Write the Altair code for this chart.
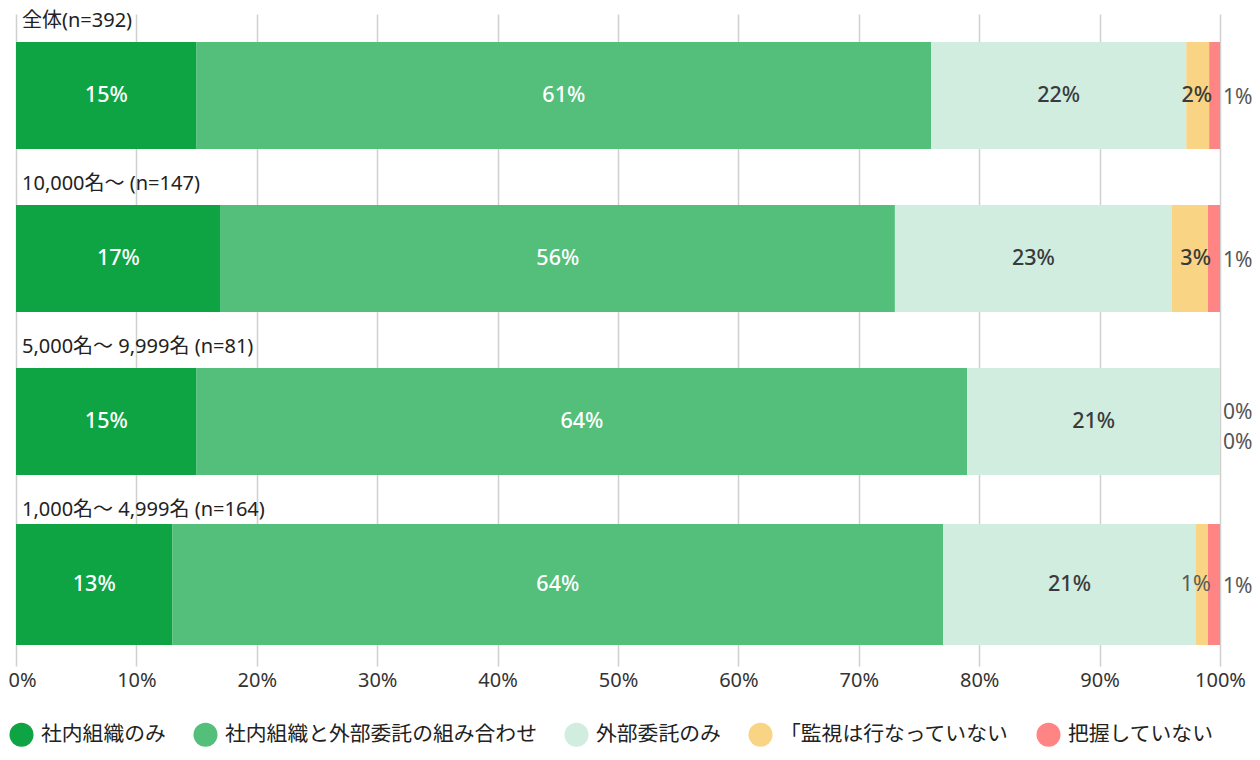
import altair as alt
import pandas as pd

rows = ["全体(n=392)", "10,000名～ (n=147)", "5,000名～ 9,999名 (n=81)", "1,000名～ 4,999名 (n=164)"]
series = ["社内組織のみ", "社内組織と外部委託の組み合わせ", "外部委託のみ", "「監視は行なっていない", "把握していない"]
colors = ["#0ea443", "#53bf7b", "#d0ede0", "#f9d484", "#ff8585"]

v_in = [15, 17, 15, 13]
v_mix = [61, 56, 64, 64]
v_out = [21.2, 23, 21, 21]
v_none = [1.9, 3, 0, 1]
v_unk = [0.9, 1, 0, 1]

l_in = ["15%", "17%", "15%", "13%"]
l_mix = ["61%", "56%", "64%", "64%"]
l_out = ["22%", "23%", "21%", "21%"]
l_none = ["2%", "3%", "0%", "1%"]
l_unk = ["1%", "1%", "0%", "1%"]

vals = [v_in, v_mix, v_out, v_none, v_unk]
labs = [l_in, l_mix, l_out, l_none, l_unk]

recs = []
for si, s in enumerate(series):
    for ri, r in enumerate(rows):
        recs.append({"row": r, "series": s, "order": si, "value": vals[si][ri], "label": labs[si][ri]})
df = pd.DataFrame(recs)

W = 1204
H = 652
FONT = "Noto Sans, Noto Sans CJK JP"

base = alt.Chart(df).transform_stack(
    stack="value", as_=["x0", "x1"], groupby=["row"], sort=[alt.SortField("order")]
).transform_calculate(mid="(datum.x0 + datum.x1) / 2")

yenc = alt.Y("row:N", sort=rows, axis=None,
             scale=alt.Scale(paddingInner=0, paddingOuter=0))
xscale = alt.Scale(domain=[0, 100], nice=False, zero=True)

bars = base.mark_bar().encode(
    x=alt.X("x0:Q", scale=xscale,
            axis=alt.Axis(values=list(range(0, 101, 10)), labelExpr="datum.value + '%'",
                          title=None, domain=False, ticks=False, grid=True,
                          gridColor="#d0d0d0", gridWidth=1.5, labelPadding=4,
                          labelFlush=False,
                          labelAlign=alt.condition("datum.value == 0", alt.value("left"), alt.value("center")),
                          labelOffset=alt.condition("datum.value == 0", alt.value(-8), alt.value(0)),
                          labelFontSize=20, labelColor="#333")),
    x2="x1:Q",
    y=yenc,
    color=alt.Color("series:N", sort=series,
                    scale=alt.Scale(domain=series, range=colors),
                    legend=alt.Legend(title=None, orient="none", legendX=-7, legendY=708,
                                      direction="horizontal", symbolType="circle",
                                      symbolSize=580, symbolStrokeWidth=0,
                                      labelFontSize=20.8, labelColor="#222",
                                      labelOffset=7, columnPadding=27, labelLimit=500)),
    size=alt.condition(alt.datum.row == rows[3], alt.value(121), alt.value(107)),
)

row_labels = alt.Chart(pd.DataFrame({"row": rows})).mark_text(
    align="left", baseline="middle", dy=-75, fontSize=20, color="#222"
).encode(x=alt.value(6), y=alt.Y("row:N", sort=rows, axis=None), text="row:N")

t_white = base.transform_filter(alt.datum.order <= 1).mark_text(
    fontSize=21.5, color="white", fontWeight=500, baseline="middle"
).encode(x=alt.X("mid:Q", scale=xscale), y=yenc, text="label:N")

t_dark = base.transform_filter(alt.datum.order == 2).mark_text(
    fontSize=21.5, color="#3a3a3a", fontWeight=500, baseline="middle"
).encode(x=alt.X("mid:Q", scale=xscale), y=yenc, text="label:N")

t_yel_in = base.transform_filter("datum.order == 3 && datum.value >= 1.5").mark_text(
    fontSize=21.5, color="#3a3a3a", fontWeight=500, align="right", dx=3, baseline="middle"
).encode(x=alt.X("x1:Q", scale=xscale), y=yenc, text="label:N")

t_yel_small = base.transform_filter("datum.order == 3 && datum.value > 0 && datum.value < 1.5").mark_text(
    fontSize=21.5, color="#5a5a5a", align="right", dx=3, baseline="middle"
).encode(x=alt.X("x1:Q", scale=xscale), y=yenc, text="label:N")

t_yel_zero = base.transform_filter("datum.order == 3 && datum.value == 0").mark_text(
    fontSize=21, color="#555", align="left", dx=3, dy=-9, baseline="middle"
).encode(x=alt.datum(100, scale=xscale), y=yenc, text="label:N")

t_red_zero = base.transform_filter("datum.order == 4 && datum.value == 0").mark_text(
    fontSize=21, color="#555", align="left", dx=3, dy=21, baseline="middle"
).encode(x=alt.datum(100, scale=xscale), y=yenc, text="label:N")

t_red = base.transform_filter("datum.order == 4 && datum.value > 0").mark_text(
    fontSize=21, color="#555", align="left", dx=3, dy=2, baseline="middle"
).encode(x=alt.datum(100, scale=xscale), y=yenc, text="label:N")

chart = alt.layer(
    bars, row_labels, t_white, t_dark, t_yel_in, t_yel_small, t_yel_zero, t_red_zero, t_red
).properties(
    width=W, height=H,
    autosize=alt.AutoSizeParams(type="none"),
    padding={"left": 8, "top": 6, "right": 32, "bottom": 84},
).configure(font=FONT).configure_view(stroke=None)

chart.save("out.html", embed_options={"renderer": "svg", "actions": False})
